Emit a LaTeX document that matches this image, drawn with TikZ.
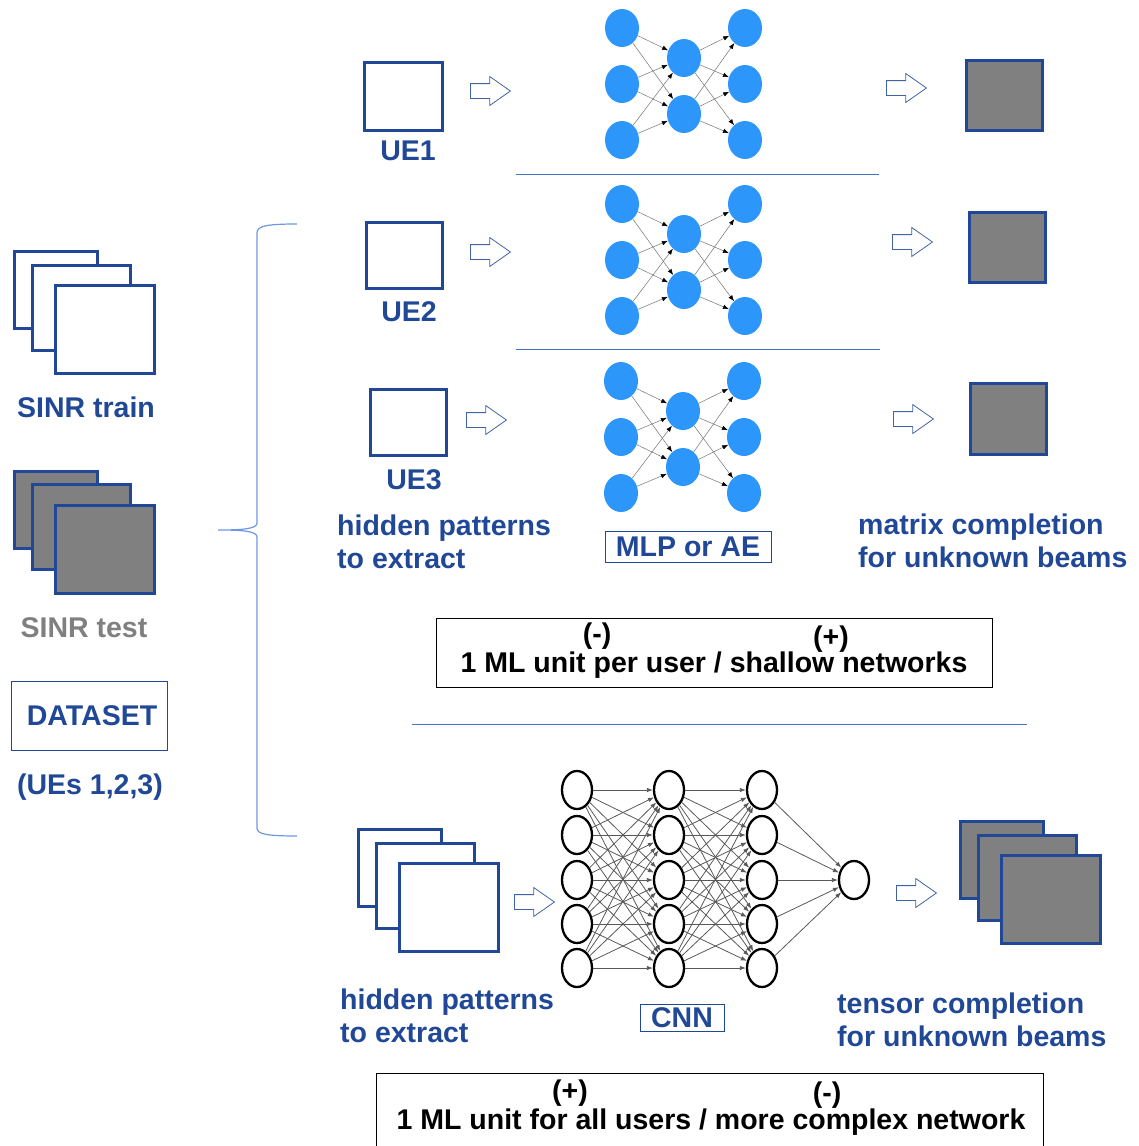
\documentclass[tikz,border=0pt]{standalone}
\usepackage{fontspec}
\setmainfont{Liberation Sans}
\usepackage{xcolor}
\usepackage{tikz}
\usetikzlibrary{positioning,arrows.meta,shapes.arrows,shapes.geometric}
\definecolor{dblue}{RGB}{32,72,150}
\definecolor{lblue}{RGB}{68,114,196}
\definecolor{brblue}{RGB}{110,150,225}
\definecolor{nblue}{RGB}{45,150,250}
\definecolor{sgray}{RGB}{128,128,128}

\begin{document}
\begin{tikzpicture}[x=1pt, y=-1pt,
  font=\fontsize{28.5}{33}\selectfont\bfseries,
  lbl/.style={text=dblue, inner sep=0pt, align=left},
  blk/.style={text=black, inner sep=0pt},
  sheet/.style={draw=dblue, line width=3pt, inner sep=0pt},
  tagbox/.style={draw=dblue, line width=1pt, inner sep=0pt, text=dblue},
  harrow/.style={single arrow, draw=dblue!85, line width=0.8pt, fill=white, inner xsep=0pt, inner ysep=7pt,
    minimum height=40pt, single arrow head extend=7pt, single arrow tip angle=70},
  mlp/.style={ellipse, fill=nblue, minimum width=34pt, minimum height=38pt, inner sep=0pt},
  cnn/.style={ellipse, draw, line width=2.3pt, fill=white, minimum width=30pt, minimum height=38pt, inner sep=0pt},
  wire/.style={-{Latex[length=6pt,width=4.5pt,color=black]}, draw=black!55, line width=0.5pt},
  cwire/.style={-{Latex[length=6pt,width=4.5pt]}, draw=black!65, line width=0.8pt}]
\useasboundingbox (0,0) rectangle (1139,1146);

\foreach \s/\x/\y/\fc in {tr/55.5/290/white, te/55.5/509.5/sgray, in/399.5/868/white, out/1001.5/860/sgray}
  \foreach \k/\dx/\dy/\w/\h in {1/0/0/83/77, 2/25.5/17.5/98/85, 3/49/39.5/99/88}
    \node[sheet, fill=\fc, minimum width=\w pt, minimum height=\h pt] (\s\k) at (\x+\dx,\y+\dy) {};

\node[lbl] (trt) at (86,407) {SINR train};
\node[lbl, text=sgray] (tet) at (84,628) {SINR test};
\node[tagbox, minimum width=156pt, minimum height=69pt] (data) at (89,716) {\hspace{6pt}DATASET};
\node[lbl] (ues) at (90,787) {(UEs 1,2,3)};

\draw[brblue, line width=1.2pt] (297,224) .. controls (266,224) and (257,226) .. (257,233) -- (257,523)
  .. controls (257,529) and (242,530) .. (218,530) .. controls (242,530) and (257,531) .. (257,537)
  -- (257,828) .. controls (257,834) and (266,836) .. (297,836);

\node[sheet, fill=white, minimum width=78pt, minimum height=68pt] (ue1) at (403,96) {};
\node[sheet, fill=white, minimum width=76pt, minimum height=66pt] (ue2) at (404,255) {};
\node[sheet, fill=white, minimum width=76pt, minimum height=66pt] (ue3) at (408,422) {};
\node[lbl] (ue1t) at (408,151) {UE1};
\node[lbl] (ue2t) at (409,312) {UE2};
\node[lbl] (ue3t) at (414,480) {UE3};

\node[sheet, fill=sgray, minimum width=76pt, minimum height=70pt] (o1) at (1004,95) {};
\node[sheet, fill=sgray, minimum width=76pt, minimum height=70pt] (o2) at (1007,247) {};
\node[sheet, fill=sgray, minimum width=76pt, minimum height=71pt] (o3) at (1008,418.5) {};

\foreach \n/\x/\y in {a1/470/91, a2/470/252, a3/466/420, b1/886/88, b2/892/242, b3/893/419, a4/514/902, b4/896/893}
  \node[harrow, anchor=tail] (\n) at (\x,\y) {};

\foreach \r/\y/\dx in {1/28/0, 2/204/0, 3/381/-1} {
  \foreach \i in {1,2,3} {
    \node[mlp] (n\r-a\i) at (622+\dx,\y+56*\i-56) {};
    \node[mlp] (n\r-c\i) at (745+\dx,\y+56*\i-56) {};
  }
  \foreach \j in {1,2} \node[mlp] (n\r-b\j) at (684+\dx,\y+56*\j-26) {};
  \foreach \i in {1,2,3} \foreach \j in {1,2} {
    \draw[wire] (n\r-a\i) -- (n\r-b\j);
    \draw[wire] (n\r-b\j) -- (n\r-c\i);
  }
}

\draw[lblue, line width=1pt] (516,174) -- (879,174);
\draw[lblue, line width=1pt] (516,349) -- (880,349);

\node[lbl, anchor=west] (hid1) at (337,542) {hidden patterns\\to extract};
\node[tagbox, minimum width=166pt, minimum height=31pt] (mlpt) at (688,547) {MLP or AE};
\node[lbl, anchor=west] (mat) at (858,541) {matrix completion\\for unknown beams};

\node[draw, line width=1pt, minimum width=556pt, minimum height=69pt] (pro1) at (714,652.5) {};
\node[blk] (l1) at (714,665) {1 ML unit per user / shallow networks};
\node[blk] (m1) at (597,636) {(-)};
\node[blk] (p1) at (831,639) {(+)};

\draw[lblue, line width=1pt] (412,724) -- (1027,724);

\foreach \i/\y in {1/790, 2/835, 3/880, 4/924, 5/968} {
  \node[cnn] (c-a\i) at (577,\y) {};
  \node[cnn] (c-b\i) at (669,\y) {};
  \node[cnn] (c-c\i) at (762,\y) {};
}
\node[cnn] (c-out) at (854,880) {};
\foreach \i in {1,...,5} {
  \foreach \j in {1,...,5} {
    \draw[cwire] (c-a\i) -- (c-b\j);
    \draw[cwire] (c-b\i) -- (c-c\j);
  }
  \draw[cwire] (c-c\i) -- (c-out);
}

\node[lbl, anchor=west] (hid2) at (340,1016) {hidden patterns\\to extract};
\node[tagbox, minimum width=84pt, minimum height=27pt] (cnnt) at (682,1018) {CNN};
\node[lbl, anchor=west] (ten) at (837,1020) {tensor completion\\for unknown beams};

\draw[line width=1pt] (376,1160) -- (376,1073) -- (1043,1073) -- (1043,1160);
\node[blk] (l2) at (711,1122) {1 ML unit for all users / more complex network};
\node[blk] (p2) at (570,1093) {(+)};
\node[blk] (m2) at (827,1095) {(-)};
\end{tikzpicture}
\end{document}
